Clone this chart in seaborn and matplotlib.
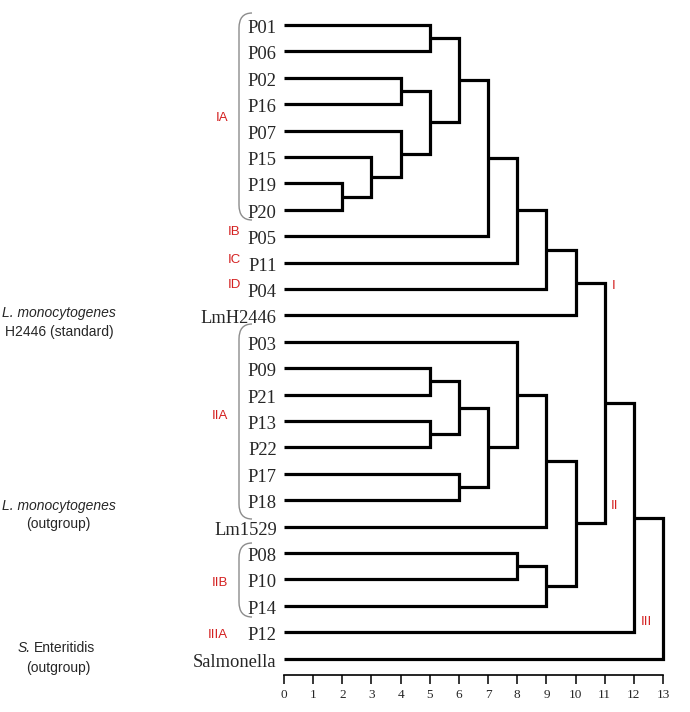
import seaborn as sns
import matplotlib.pyplot as plt
import pandas as pd
from matplotlib.path import Path
from matplotlib.patches import PathPatch

# leaves from top to bottom
leaves = ['P01', 'P06', 'P02', 'P16', 'P07', 'P15', 'P19', 'P20', 'P05', 'P11',
          'P04', 'LmH2446', 'P03', 'P09', 'P21', 'P13', 'P22', 'P17', 'P18',
          'Lm1529', 'P08', 'P10', 'P14', 'P12', 'Salmonella']

# merges, linkage style: node ids 0..24 are leaves, new nodes get 25, 26, ...
merge_left = [0, 2, 6, 5, 4, 26, 25, 31, 32, 33, 34, 13, 15, 36, 17, 38, 12, 41,
              20, 43, 42, 35, 46, 47]
merge_right = [1, 3, 7, 27, 28, 29, 30, 8, 9, 10, 11, 14, 16, 37, 18, 39, 40, 19,
               21, 22, 44, 45, 23, 24]
merge_height = [5, 4, 2, 3, 4, 5, 6, 7, 8, 9, 10, 5, 5, 6, 6, 7, 8, 9, 8, 9, 10,
                11, 12, 13]

# cluster labels (text, x, row)
cluster_text = ['IA', 'IB', 'IC', 'ID', 'IIA', 'IIB', 'IIIA', 'I', 'II', 'III']
cluster_x = [-2.13, -1.71, -1.69, -1.69, -2.21, -2.21, -2.28, 11.30, 11.35, 12.42]
cluster_row = [3.52, 7.85, 8.9, 9.85, 14.81, 21.14, 23.1, 9.89, 18.22, 22.61]

# pixel -> data helpers (x: 0 at 284px, 29.15px per unit; rows: 25px + 26.4px each)
X0, XU, Y0, YU = 284, 29.154, 25, 26.4


def dx(px):
    return (px - X0) / XU


def dy(py):
    return (py - Y0) / YU


def main():
    rows = []
    node_x = [0] * len(leaves)
    node_y = list(range(len(leaves)))
    for k, (a, b, h) in enumerate(zip(merge_left, merge_right, merge_height)):
        rows += [(k, node_x[a], node_y[a]), (k, h, node_y[a]),
                 (k, h, node_y[b]), (k, node_x[b], node_y[b])]
        node_x.append(h)
        node_y.append((node_y[a] + node_y[b]) / 2)
    data = pd.DataFrame(rows, columns=['link', 'height', 'row'])

    sns.set_style('white')
    plt.rcParams['font.family'] = ['Liberation Sans', 'DejaVu Sans']

    fig = plt.figure(figsize=(6.9, 7.12), dpi=100)
    ax = fig.add_axes([0, 0, 1, 1])
    ax.patch.set_alpha(0)

    sns.lineplot(data=data, x='height', y='row', units='link', estimator=None,
                 sort=False, color='black', lw=2.3, legend=False, ax=ax,
                 solid_joinstyle='miter', solid_capstyle='butt')

    ax.set_xlim(dx(0), dx(690))
    ax.set_ylim(dy(712), dy(0))

    for i, name in enumerate(leaves):
        ax.text(-0.25, i + 0.3, name, ha='right', va='baseline', fontsize=13.3,
                family='Liberation Serif')

    for t, x, y in zip(cluster_text, cluster_x, cluster_row):
        ax.text(x, y, t, ha='center', va='center', fontsize=9.5, color='#d42020')

    # braces
    for top, bot in [(13, 220), (324, 519), (543, 617)]:
        verts = [(dx(252), dy(top)), (dx(239), dy(top)), (dx(239), dy(top + 15)),
                 (dx(239), dy(bot - 15)), (dx(239), dy(bot)), (dx(252), dy(bot))]
        codes = [Path.MOVETO, Path.CURVE3, Path.CURVE3, Path.LINETO,
                 Path.CURVE3, Path.CURVE3]
        ax.add_patch(PathPatch(Path(verts, codes), fc='none', ec='#8c8c8c', lw=1.0))

    # left notes
    ax.text(dx(59), dy(313), 'L. monocytogenes', ha='center', va='center',
            fontsize=10, style='italic')
    ax.text(dx(59), dy(332), 'H2446 (standard)', ha='center', va='center', fontsize=10)
    ax.text(dx(59), dy(506), 'L. monocytogenes', ha='center', va='center',
            fontsize=10, style='italic')
    ax.text(dx(58.5), dy(524), '(outgroup)', ha='center', va='center', fontsize=10)
    ax.text(dx(18), dy(648), 'S.', ha='left', va='center', fontsize=10, style='italic')
    ax.text(dx(34), dy(648), 'Enteritidis', ha='left', va='center', fontsize=10)
    ax.text(dx(58.5), dy(668), '(outgroup)', ha='center', va='center', fontsize=10)

    for s in ['top', 'right', 'left']:
        ax.spines[s].set_visible(False)
    ax.spines['bottom'].set_position(('data', dy(675)))
    ax.spines['bottom'].set_bounds(0, 13)
    ax.spines['bottom'].set_color('black')
    ax.spines['bottom'].set_linewidth(1.2)
    ax.set_xticks(range(14))
    ax.set_yticks([])
    ax.tick_params(axis='x', bottom=True, direction='out', length=6.5, width=1.1,
                   pad=3.5, labelsize=9.5, color='black')
    for lab in ax.get_xticklabels():
        lab.set_family('Liberation Serif')
    ax.set_xlabel('')
    ax.set_ylabel('')

    plt.savefig('out.png', dpi=100)


if __name__ == '__main__':
    main()
